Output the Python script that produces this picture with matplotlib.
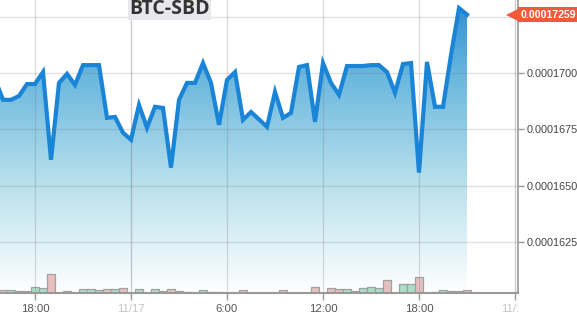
import numpy as np
import pandas as pd
import matplotlib
matplotlib.use("Agg")
import matplotlib.pyplot as plt
from matplotlib.colors import LinearSegmentedColormap
from matplotlib.transforms import blended_transform_factory, Bbox

# ---------------- data ----------------
start_time = "2017-11-16 15:30"
prices_e8 = [16973, 16881, 16881, 16898, 16951, 16951, 17004, 16615, 16956, 16996,
             16947, 17035, 17035, 17035, 16801, 16805, 16735, 16704, 16858, 16757,
             16850, 16845, 16580, 16881, 16956, 16956, 17044, 16956, 16770, 16969,
             17004, 16792, 16827, 16794, 16761, 16916, 16801, 16823, 17027, 17035,
             16783, 17044, 16956, 16903, 17031, 17031, 17031, 17035, 17035, 17004,
             16912, 17040, 17044, 16558, 17049, 16850, 16850, 17080, 17288, 17259]
volumes = [2, 3, 3, 1.7, 1.7, 5.7, 5, 19, 0, 2,
           0.5, 4, 4, 3, 4, 4, 5, 0.5, 4, 0.5,
           4, 2, 4, 2, 0.7, 0.5, 3, 0.7, 0.7, 0,
           0.5, 3, 0.5, 0.5, 0, 0, 3, 0, 0, 0.5,
           6, 0.3, 5, 4, 4, 2, 5, 6, 5, 13,
           0.5, 9, 9, 16, 0, 0.7, 3, 1.7, 1.7, 3]
last_price = 0.00017259
x_tick_times = ["2017-11-16 18:00", "2017-11-17 00:00", "2017-11-17 06:00",
                "2017-11-17 12:00", "2017-11-17 18:00", "2017-11-18 00:00"]
x_tick_labels = ["18:00", "11/17", "6:00", "12:00", "18:00", "11/18"]
y_ticks = [0.0001625, 0.000165, 0.0001675, 0.00017, 0.0001725]
title = "BTC-SBD"

# ---------------- prep ----------------
times = pd.date_range(start_time, periods=len(prices_e8), freq="30min")
prices = np.array(prices_e8) * 1e-8
xnum = matplotlib.dates.date2num(times)
step = xnum[1] - xnum[0]

W, H = 577, 321
fig = plt.figure(figsize=(W / 100, H / 100), dpi=100)
ax = fig.add_axes([0, 28 / H, 518 / W, 293 / H])

xl = matplotlib.dates.date2num(pd.Timestamp("2017-11-16 15:48:45"))
xr = matplotlib.dates.date2num(pd.Timestamp("2017-11-18 00:11:15"))
ylo, yhi = 0.000160236, 0.00017324

# volume axes (drawn underneath the price axes)
axv = ax.twinx()
ax.set_zorder(axv.get_zorder() + 1)
ax.patch.set_visible(False)
axv.patch.set_facecolor("white")

ax.set_xlim(xl, xr)
ax.set_ylim(ylo, yhi)
axv.set_xlim(xl, xr)
axv.set_ylim(0, 293)

# gradient fill under the price line
cmap = LinearSegmentedColormap.from_list(
    "g", [(0, "#ffffff"), (0.4, "#b3deeb"), (0.75, "#68b6de"), (1.0, "#2a8ed6")])
grad = np.linspace(0, 1, 256).reshape(-1, 1)
im = axv.imshow(grad, cmap=cmap, origin="lower", aspect="auto",
                extent=[xl, xr, ylo, yhi], zorder=1, interpolation="bilinear",
                transform=ax.transData)
poly = ax.fill_between(xnum, prices, ylo, color="none", lw=0)
im.set_clip_path(poly.get_paths()[0], transform=ax.transData)
axv.set_xlim(xl, xr)
axv.set_ylim(0, 293)

# volume bars
cols = []
for i in range(len(prices)):
    up = i == 0 or prices[i] >= prices[i - 1]
    cols.append("#a9e0c8" if up else "#e8bfbf")
axv.bar(xnum, volumes, width=step, color=cols, edgecolor="#a0a0a0",
        linewidth=0.9, zorder=3)
axv.set_yticks([])
for s in axv.spines.values():
    s.set_visible(False)

# grid
tick_nums = matplotlib.dates.date2num(pd.to_datetime(x_tick_times))
for t, lab in zip(tick_nums, x_tick_labels):
    day = "/" in lab
    ax.axvline(t, color="#6a6a7a", alpha=0.35 if day else 0.22, lw=1, zorder=2)
for yv in y_ticks:
    ax.axhline(yv, color="#7a7a8a", alpha=0.22, lw=1, zorder=2)

ax.plot(xnum, prices, color="#1a84d6", lw=3.0, solid_joinstyle="miter", zorder=5)

# axes styling
ax.set_xticks(tick_nums)
ax.set_xticklabels(x_tick_labels)
clip_bb = Bbox.from_extents(0, 0, 518, H)
for lab, txt in zip(ax.get_xticklabels(), x_tick_labels):
    lab.set_color("#c4c4c4" if "/" in txt else "#555555")
    lab.set_fontfamily("Liberation Sans")
    lab.set_fontsize(8.2)
    lab.set_clip_box(clip_bb)
    lab.set_clip_on(True)
ax.tick_params(axis="x", length=5, width=1, color="#999999", pad=3)
ax.yaxis.tick_right()
ax.set_yticks(y_ticks)
ax.set_yticklabels([f"{v:.8f}" if v < last_price - 1e-6 else "" for v in y_ticks],
                   fontfamily="Liberation Sans", fontsize=7.8, color="#444444")
ax.tick_params(axis="y", length=4, width=1, color="#999999", pad=2)
for s in ["top", "left"]:
    ax.spines[s].set_visible(False)
ax.spines["bottom"].set_color("#999999")
ax.spines["bottom"].set_linewidth(1.5)
ax.spines["right"].set_color("#999999")
ax.spines["right"].set_linewidth(1.2)

# last-price tag
tr = blended_transform_factory(ax.transAxes, ax.transData)
ax.plot([1.0 - 6 / 518], [last_price], marker="<", markersize=9, color="#f0593b",
        transform=tr, clip_on=False, zorder=10, markeredgewidth=0)
ax.text(1.0 + 3 / 518, last_price, f"{last_price:.8f}", transform=tr,
        fontfamily="Liberation Sans", fontsize=7.6, fontweight="bold",
        color="white", va="center", ha="left", zorder=11,
        bbox=dict(boxstyle="square,pad=0.25", fc="#f0593b", ec="none"))

# title
fig.text(169.5 / W, 1 - 9 / H, title, ha="center", va="center",
         fontfamily="Open Sans", fontweight="bold", fontsize=14, color="#333333",
         bbox=dict(boxstyle="square,pad=0.06", fc="#e8e8ec", ec="none"))

fig.savefig("out.png", dpi=100)
